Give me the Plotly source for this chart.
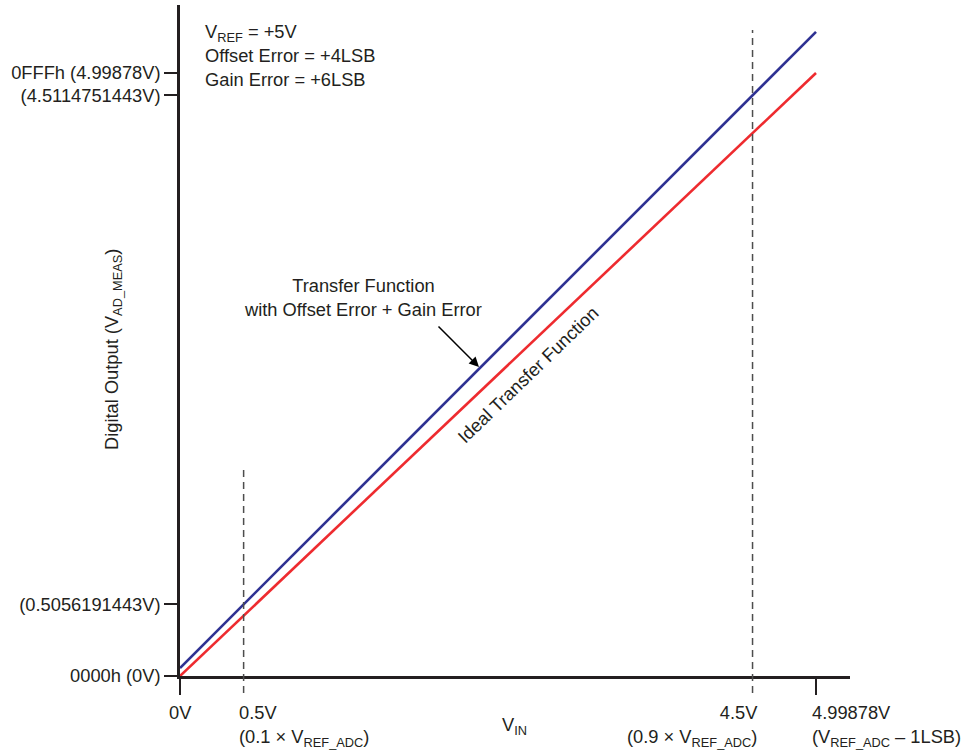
import numpy as np
import plotly.graph_objects as go

# ---- data ----
vin = [0.0, 4.99878]                 # input voltage span (V)
ideal_out = [0.0, 4.99878]           # ideal transfer function (V)
error_out = [0.066, 5.34]            # transfer function with offset + gain error (schematic, exaggerated)

y_tick_labels = ["0000h (0V)", "(0.5056191443V)", "(4.5114751443V)", "0FFFh (4.99878V)"]
x_marks = [0.5, 4.5]                 # dashed reference voltages
x_tick_vals = [0.0, 4.99878]

# y tick positions: error line evaluated at 0.5V and 4.5V
y_tick_vals = [0.0,
               float(np.interp(0.5, vin, error_out)),
               float(np.interp(4.5, vin, error_out)),
               4.99878]

FONT = "Liberation Sans, Arial, Helvetica, sans-serif"
TXT = "#231F20"
FS = 18.3

W, H = 964, 750
L, R, T, B = 180, 114, 5, 74
PW, PH = W - L - R, H - T - B


def px(x):
    return (x - L) / PW


def py(y):
    return (H - B - y) / PH


fig = go.Figure()
fig.add_trace(go.Scatter(x=vin, y=ideal_out, mode="lines",
                         line=dict(color="#EE2B2F", width=2.6), showlegend=False))
fig.add_trace(go.Scatter(x=vin, y=error_out, mode="lines",
                         line=dict(color="#2E3192", width=2.6), showlegend=False))

shapes = [
    dict(type="line", xref="x", yref="paper", x0=x_marks[0], x1=x_marks[0],
         y0=py(693), y1=py(467), line=dict(color="#4D4D4D", width=1.5, dash="7px,5px")),
    dict(type="line", xref="x", yref="paper", x0=x_marks[1], x1=x_marks[1],
         y0=py(693), y1=py(30), line=dict(color="#4D4D4D", width=1.5, dash="7px,5px")),
]

ann = []
f = dict(family=FONT, size=FS, color=TXT)
ann.append(dict(xref="paper", yref="paper", x=px(203), y=py(19), xanchor="left", yanchor="top",
                align="left", showarrow=False, font=f,
                text="V<sub>REF</sub> = +5V<br>Offset Error = +4LSB<br>Gain Error = +6LSB"))
ann.append(dict(xref="paper", yref="paper", x=px(363), y=py(297), xanchor="center", yanchor="middle",
                align="center", showarrow=False, font=f,
                text="Transfer Function<br>with Offset Error + Gain Error"))
ann.append(dict(xref="x", yref="y", x=2.350, y=2.562, ax=-42, ay=-42, text="",
                showarrow=True, arrowhead=2, arrowsize=1.3, arrowwidth=1.5, arrowcolor="#000"))
ann.append(dict(xref="x", yref="y", x=2.735, y=2.503, textangle=-44, showarrow=False, font=f,
                text="Ideal Transfer Function"))
ann.append(dict(xref="paper", yref="paper", x=px(113), y=py(350), xanchor="center", yanchor="middle",
                textangle=-90, showarrow=False, font=f,
                text="Digital Output (V<sub>AD_MEAS</sub>)"))
ann.append(dict(xref="paper", yref="paper", x=px(514), y=py(726), xanchor="center", yanchor="middle",
                showarrow=False, font=f, text="V<sub>IN</sub>"))
# x tick labels
ann.append(dict(xref="x", yref="paper", x=0, y=py(712), xanchor="center", yanchor="middle",
                showarrow=False, font=f, text="0V"))
ann.append(dict(xref="paper", yref="paper", x=px(237), y=py(700), xanchor="left", yanchor="top",
                align="left", showarrow=False, font=f,
                text="0.5V<br>(0.1 × V<sub>REF_ADC</sub>)"))
ann.append(dict(xref="paper", yref="paper", x=px(760), y=py(700), xanchor="right", yanchor="top",
                align="right", showarrow=False, font=f,
                text="4.5V<br>(0.9 × V<sub>REF_ADC</sub>)"))
ann.append(dict(xref="paper", yref="paper", x=px(810), y=py(700), xanchor="left", yanchor="top",
                align="left", showarrow=False, font=f,
                text="4.99878V<br>(V<sub>REF_ADC</sub> – 1LSB)"))

fig.update_layout(
    width=W, height=H, autosize=False,
    margin=dict(l=L, r=R, t=T, b=B, pad=0),
    paper_bgcolor="white", plot_bgcolor="white",
    font=f, shapes=shapes, annotations=ann,
    xaxis=dict(range=[0, PW / 127.23], showgrid=False, zeroline=False,
               showline=True, linecolor=TXT, linewidth=2.6,
               ticks="outside", ticklen=16, tickwidth=1.5, tickcolor=TXT,
               tickvals=x_tick_vals, showticklabels=False, fixedrange=True),
    yaxis=dict(range=[0, PH / 120.63], showgrid=False, zeroline=False,
               showline=True, linecolor=TXT, linewidth=2.6,
               ticks="outside", ticklen=13, tickwidth=1.5, tickcolor=TXT,
               tickvals=y_tick_vals, ticktext=y_tick_labels,
               tickfont=f, fixedrange=True),
)

fig.write_html("out.html", config={"displayModeBar": False},
               post_script="document.body.style.margin='0';document.body.style.padding='0';")
